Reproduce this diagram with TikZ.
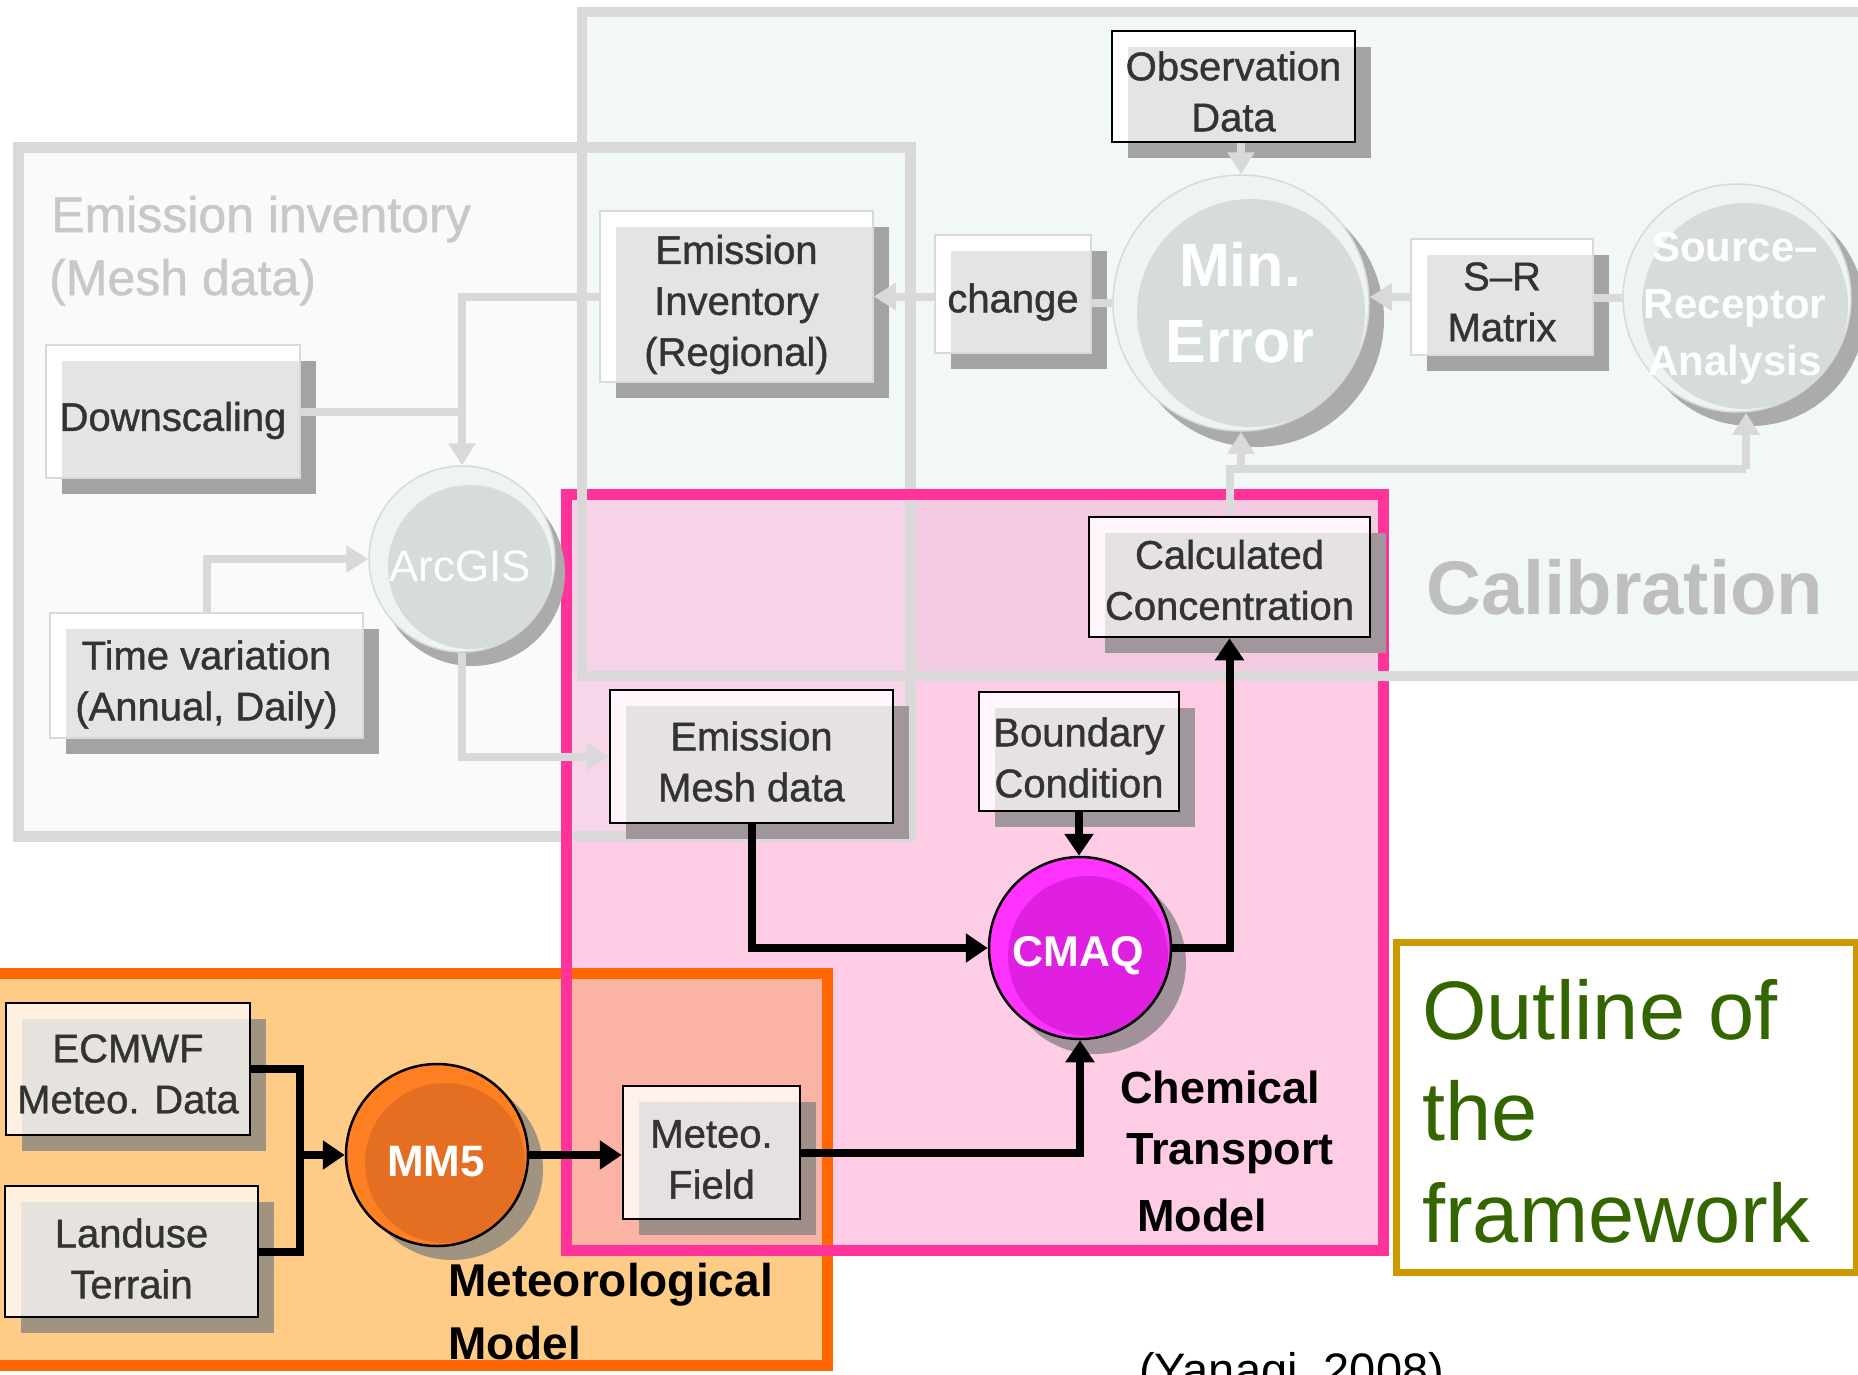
\documentclass[tikz,border=0pt]{standalone}
\usepackage{fontspec}
\setmainfont{Liberation Sans}
\newfontfamily\boxfont[FakeBold=1]{Liberation Sans}
\usetikzlibrary{arrows.meta,shadows,calc}
\definecolor{glinec}{HTML}{D9D9D9}
\definecolor{emfill}{HTML}{F9FAFA}
\definecolor{calfill}{HTML}{F2F7F7}
\definecolor{orfill}{HTML}{FFCC88}
\definecolor{pkfill}{HTML}{FFCCE6}
\definecolor{pkcal}{HTML}{F3CBE3}
\definecolor{pkcalem}{HTML}{F7D3E7}
\definecolor{pkem}{HTML}{F8D6E9}
\definecolor{salmon}{HTML}{FBB3A3}
\definecolor{pkline}{HTML}{FF3399}
\definecolor{orline}{HTML}{FF6600}
\definecolor{goldc}{HTML}{CC9900}
\definecolor{dgreen}{HTML}{336600}
\definecolor{txt}{HTML}{333333}
\definecolor{fadetxt}{HTML}{C8C8C8}
\definecolor{caltxt}{HTML}{BFBFBF}
\definecolor{fadeinner}{HTML}{E4E4E4}
\definecolor{fadeshadow}{HTML}{A3A3A3}
\definecolor{pkface}{HTML}{FFF5FA}
\definecolor{pkinner}{HTML}{E6E2E4}
\definecolor{pkshadow}{HTML}{A0969C}
\definecolor{orface}{HTML}{FFF1DF}
\definecolor{orinner}{HTML}{E6E2DE}
\definecolor{orshadow}{HTML}{A09480}
\definecolor{saface}{HTML}{FFF0EC}
\definecolor{sainner}{HTML}{E6E1E0}
\definecolor{sashadow}{HTML}{A08E88}
\definecolor{circface}{HTML}{D6DBDB}
\definecolor{circring}{HTML}{EEF3F3}
\definecolor{circshadow}{HTML}{ABABAB}
\definecolor{mmout}{HTML}{FF8022}
\definecolor{mmin}{HTML}{E46F22}
\definecolor{cmout}{HTML}{FF33FF}
\definecolor{cmin}{HTML}{E020E0}
\definecolor{cmshadow}{HTML}{A0919A}
% name, style, width, height, x, y, text, text shift down
\newcommand\mkbox[8]{%
  \node[#2, minimum width=#3pt, minimum height=#4pt] (#1) at (#5,#6) {};
  \node[boxtxt] (#1t) at ($(#5,#6)+(0,#8)$) {#7};}
\begin{document}
\begin{tikzpicture}[x=1pt,y=-1pt,
  sbox/.style n args={4}{rectangle, inner sep=0pt, fill=#1, draw=#4,
    general shadow={fill=#3, shadow xshift=16pt, shadow yshift=-16pt},
    path picture={\fill[#2] ([xshift=16pt,yshift=-16pt]path picture bounding box.north west) rectangle (path picture bounding box.south east);}},
  boxtxt/.style={inner sep=0pt, align=center, text=txt, font=\boxfont\fontsize{40}{51}\selectfont},
  fadebox/.style={sbox={white}{fadeinner}{fadeshadow}{glinec}, line width=1.5pt},
  blkbox/.style n args={3}{sbox={#1}{#2}{#3}{black}, line width=2.5pt},
  ctxt/.style={inner sep=0pt, align=center, text=white},
  gconn/.style={draw=glinec, line width=8pt},
  garr/.style={gconn, -{Triangle[length=22pt,width=26pt]}},
  bconn/.style={draw=black, line width=8pt},
  barr/.style={bconn, -{Triangle[length=22pt,width=28pt]}},
  lbl/.style={anchor=base west, inner sep=0pt}
]
\useasboundingbox (0,0) rectangle (1858,1374);
\clip (0,0) rectangle (1858,1374);
% ---- group regions
\fill[emfill] (18,147) rectangle (910,836);
\fill[calfill] (582,12) rectangle (1880,676);
\fill[orfill] (-30,973) rectangle (827,1365);
\fill[pkfill] (566,494) rectangle (1383,1250);
\fill[pkcal] (566,494) rectangle (1383,676);
\fill[pkcalem] (566,494) rectangle (910,676);
\fill[pkem] (566,676) rectangle (910,836);
\fill[salmon] (566,973) rectangle (827,1250);
\draw[orline, line width=11pt] (-30,973) rectangle (827,1365);
\draw[glinec, line width=11pt] (18,147) rectangle (910,836);
\draw[pkline, line width=11pt] (566,494) rectangle (1383,1250);
\draw[glinec, line width=10pt] (582,12) rectangle (1880,676);
% ---- group labels
\node[lbl, text=fadetxt, font=\boxfont\fontsize{50}{60}\selectfont] (emt1) at (51,232) {Emission inventory};
\node[lbl, text=fadetxt, font=\boxfont\fontsize{50}{60}\selectfont] (emt2) at (49,295) {(Mesh data)};
\node[lbl, text=caltxt, font=\fontsize{76}{80}\selectfont\bfseries] (calt) at (1426,614) {Calibration};
\node[lbl, font=\fontsize{45}{50}\selectfont\bfseries] (ctm1) at (1120,1103) {Chemical};
\node[lbl, font=\fontsize{45}{50}\selectfont\bfseries] (ctm2) at (1126,1164) {Transport};
\node[lbl, font=\fontsize{45}{50}\selectfont\bfseries] (ctm3) at (1137,1231) {Model};
\node[lbl, font=\fontsize{46}{50}\selectfont\bfseries] (met1) at (448,1296) {Meteorological};
\node[lbl, font=\fontsize{46}{50}\selectfont\bfseries] (met2) at (448,1359) {Model};
% ---- faded boxes
\mkbox{down}{fadebox}{254}{133}{173}{411.5}{Downscaling}{9}
\mkbox{time}{fadebox}{313}{125}{206.5}{675.5}{Time variation\\(Annual, Daily)}{9}
\mkbox{emreg}{fadebox}{273}{171}{736.5}{296.5}{Emission\\Inventory\\(Regional)}{8}
\mkbox{change}{fadebox}{156}{118}{1013}{294}{change}{8}
\mkbox{srmat}{fadebox}{182}{116}{1502}{297}{S–R\\Matrix}{5}
% ---- black boxes
\mkbox{obs}{blkbox={white}{fadeinner}{fadeshadow}}{243}{111}{1233.5}{86.5}{Observation\\Data}{5}
\mkbox{calc}{blkbox={pkface}{pkinner}{pkshadow}}{281}{120}{1229.5}{577}{Calculated\\Concentration}{3}
\mkbox{mesh}{blkbox={pkface}{pkinner}{pkshadow}}{283}{133}{751.5}{756.5}{Emission\\Mesh data}{5}
\mkbox{bound}{blkbox={pkface}{pkinner}{pkshadow}}{200}{119}{1079}{751.5}{Boundary\\Condition}{6}
\mkbox{ecmwf}{blkbox={orface}{orinner}{orshadow}}{244}{132}{128}{1069}{ECMWF\\Meteo. Data}{5}
\mkbox{land}{blkbox={orface}{orinner}{orshadow}}{253}{131}{131.5}{1251.5}{Landuse\\Terrain}{7}
\mkbox{meteo}{blkbox={saface}{sainner}{sashadow}}{177}{133}{711.5}{1152.5}{Meteo.\\Field}{7}
% ---- circles
\node[circle, inner sep=0pt, minimum size=186pt, fill=circring, draw=glinec, line width=1.5pt,
  general shadow={fill=circshadow, shadow xshift=10pt, shadow yshift=-14pt},
  path picture={\fill[circface] ([xshift=8pt,yshift=-8pt]path picture bounding box.center) circle (82pt);}] (arc) at (462,559) {};
\node[ctxt, font=\fontsize{44}{50}\selectfont] (arct) at (460,566) {ArcGIS};
\node[circle, inner sep=0pt, minimum size=256pt, fill=circring, draw=glinec, line width=1.5pt,
  general shadow={fill=circshadow, shadow xshift=15pt, shadow yshift=-16pt},
  path picture={\fill[circface] ([xshift=10pt,yshift=-10pt]path picture bounding box.center) circle (114pt);}] (minerr) at (1241,303) {};
\node[ctxt, font=\fontsize{61}{76}\selectfont\bfseries] (minerrt) at (1240,303) {Min.\\Error};
\node[circle, inner sep=0pt, minimum size=228pt, fill=circring, draw=glinec, line width=1.5pt,
  general shadow={fill=circshadow, shadow xshift=14pt, shadow yshift=-14pt},
  path picture={\fill[circface] ([xshift=8pt,yshift=-8pt]path picture bounding box.center) circle (103pt);}] (sra) at (1737,298) {};
\node[ctxt, font=\fontsize{42}{57}\selectfont\bfseries] (srat) at (1735,308) {Source–\\Receptor\\Analysis};
\node[circle, inner sep=0pt, minimum size=182pt, fill=mmout, draw=black, line width=2.5pt,
  general shadow={fill=orshadow, shadow xshift=15pt, shadow yshift=-14pt},
  path picture={\fill[mmin] ([xshift=8pt,yshift=-8pt]path picture bounding box.center) circle (80pt);}] (mm5) at (437,1155) {};
\node[ctxt, font=\fontsize{44}{50}\selectfont\bfseries] (mm5t) at (436,1162) {MM5};
\node[circle, inner sep=0pt, minimum size=182pt, fill=cmout, draw=black, line width=2.5pt,
  general shadow={fill=cmshadow, shadow xshift=15pt, shadow yshift=-15pt},
  path picture={\fill[cmin] ([xshift=8pt,yshift=-8pt]path picture bounding box.center) circle (80pt);}] (cmaq) at (1080,948) {};
\node[ctxt, font=\fontsize{43}{50}\selectfont\bfseries] (cmaqt) at (1078,956) {CMAQ};
% ---- grey connectors
\draw[garr] (emreg.west) -| (arc.north);
\draw[gconn] (down.east) -- (down.east -| arc.north);
\draw[garr] (time.north) |- (arc.west);
\draw[garr] (arc.south) |- (mesh.west);
\draw[garr] (change.west |- emreg.east) -- (emreg.east);
\draw[gconn] (minerr.west) -- (minerr.west -| change.east);
\draw[garr] (srmat.west) -- (srmat.west -| minerr.east);
\draw[gconn] (sra.west) -- (sra.west -| srmat.east);
\draw[garr] (obs.south -| minerr.north) -- (minerr.north);
\coordinate (jc) at (1229.5,469);
\coordinate (jsra) at (1746,469);
\draw[gconn] (calc.north) -- (jc) -- (jsra);
\draw[garr] (jsra) -- ($(sra.south)+(9,0)$);
\draw[garr] (jc -| minerr.south) -- (minerr.south);
% ---- black connectors
\coordinate (jm) at (300,1155);
\draw[bconn] (ecmwf.east) -| (jm);
\draw[bconn] (land.east) -| (jm);
\draw[barr] (jm) -- (mm5.west);
\draw[barr] (mm5.east) -- (mm5.east -| meteo.west);
\draw[barr] (meteo.east) -| (cmaq.south);
\draw[barr] (mesh.south) |- (cmaq.west);
\draw[barr] (bound.south) -- (bound.south |- cmaq.north);
\draw[barr] (cmaq.east) -| (calc.south);
% ---- outline box
\node[draw=goldc, line width=7pt, fill=white, minimum width=460pt, minimum height=330pt, inner sep=0pt] (outl) at (1626,1107) {};
\node[lbl, text=dgreen, font=\fontsize{83}{100}\selectfont] (ol1) at (1422,1039) {Outline of};
\node[lbl, text=dgreen, font=\fontsize{83}{100}\selectfont] (ol2) at (1422,1140) {the};
\node[lbl, text=dgreen, font=\fontsize{83}{100}\selectfont] (ol3) at (1422,1242) {framework};
\node[lbl, font=\fontsize{47}{50}\selectfont] (cite) at (1139,1386) {(Yanagi, 2008)};
\end{tikzpicture}
\end{document}
